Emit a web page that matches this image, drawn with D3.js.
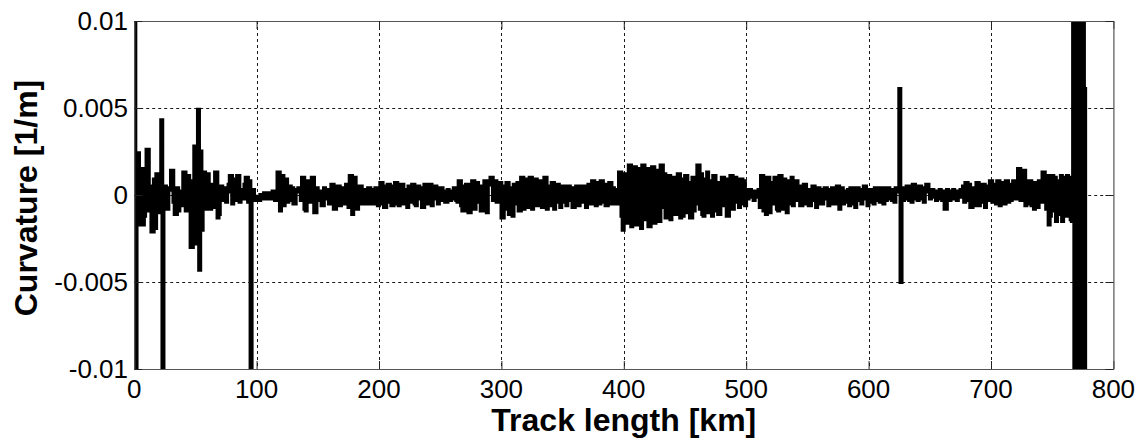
<!DOCTYPE html>
<html>
<head>
<meta charset="utf-8">
<script src="https://cdn.jsdelivr.net/npm/d3@7"></script>
<style>
  html, body { margin: 0; padding: 0; background: #fff; }
  svg { display: block; font-family: "Liberation Sans", Arial, sans-serif; }
</style>
</head>
<body>
<svg id="chart" width="1142" height="438"></svg>
<script>
// Track curvature sampled every kilometre, in units of 1e-4 1/m.
// Values beyond ±100 run off the axes and are clipped.
const sampleSpacingKm = 1;
const curvature1e4 = [
  150, -150, 24, 24, -17, 8, 15, -17, -12, 10,         // 0
  26, 26, -9, 5, -21, -21, 9, -19, 12, 12,             // 10
  -10, 6, 43, -150, 0, 5, -8, -8, 3, 4,                // 20
  14, 14, -4, -11, -11, 4, -9, 2, -6, -6,              // 30
  13, 13, -9, 11, 11, -5, -30, -30, 8, 28,             // 40
  28, -28, 49, -43, 25, -20, 13, 13, -8, 12,           // 50
  12, -5, -8, 6, 6, -7, 13, 13, -13, -11,              // 60
  5, 5, -3, 4, 4, -4, 2, 6, 11, 11,                    // 70
  -5, 9, 9, -3, 11, 11, -4, 3, 3, -2,                  // 80
  6, 10, 10, -4, 8, -150, 3, 3, -3, -2,                // 90
  -1, -3, -3, 0, -2, -2, 1, -2, -2, -1,                // 100
  1, 1, -2, 2, 2, -3, 2, 13, 13, -9,                   // 110
  11, 11, -6, 9, 9, -4, 5, 5, -3, 4,                   // 120
  -5, -5, 3, 2, 4, 4, -3, 10, 10, -8,                  // 130
  -9, 8, 8, -4, 5, 10, 10, -10, -10, 4,                // 140
  -3, -3, 2, -6, -6, 4, -2, 3, 3, -5,                  // 150
  -3, 6, 6, -8, -8, 3, 5, 5, -6, -3,                   // 160
  4, 4, -5, 6, 6, -7, 11, 11, -11, 9,                  // 170
  10, -8, -8, 4, 5, 5, -5, -4, 3, 3,                   // 180
  -5, 4, 4, -3, -5, -5, 3, 4, 4, -6,                   // 190
  2, 7, 7, -5, -7, -7, 5, 6, 6, -4,                    // 200
  -6, -6, 5, 7, 7, -5, -6, 4, 6, 6,                    // 210
  -5, -5, 3, -7, 5, 5, -4, 6, 6, -5,                   // 220
  -6, 5, 5, -2, 4, -7, -7, 6, 3, -5,                   // 230
  -5, 6, 6, -6, 2, 5, 5, -2, -5, 3,                    // 240
  4, 4, -3, 2, -4, -4, 3, 2, -3, 1,                    // 250
  -2, 4, 4, -3, -4, 8, 8, -6, -9, -9,                  // 260
  5, 6, 6, -10, -10, 4, 8, 8, -8, 7,                   // 270
  7, -4, 5, -9, -9, 3, 8, 8, -10, 6,                   // 280
  6, 10, 10, -3, 8, 8, -4, 6, 7, 7,                    // 290
  -13, -13, 5, -8, 7, 7, -11, -6, 4, -12,              // 300
  6, 6, -5, 7, -9, -9, 10, 10, -8, 9,                  // 310
  9, -7, 4, 10, 10, -8, 5, 9, 9, -6,                   // 320
  -5, 8, 8, -7, 6, 10, 10, -8, 4, -6,                  // 330
  5, 7, 7, -8, 4, 6, 6, -4, -7, 5,                     // 340
  5, -4, 2, -6, 5, 5, -3, 4, -7, -7,                   // 350
  3, 5, 5, -6, 2, -4, 5, 5, -3, -7,                    // 360
  3, 6, 6, -5, 8, 8, -4, -6, 7, 7,                     // 370
  -5, 8, 8, -4, 6, -6, -6, 3, 7, 7,                    // 380
  -5, 4, -4, 3, -5, 2, 13, 13, -12, -20,               // 390
  12, 12, -16, 8, 17, 17, -18, 14, 16, 16,             // 400
  -17, 15, 15, -12, -19, 17, 17, -14, 9, 15,           // 410
  -18, -18, 13, 16, 16, -16, -12, 14, 14, -15,         // 420
  17, 17, -7, 12, -13, -13, 11, 11, -14, 8,            // 430
  10, -11, -11, 5, 12, 12, -13, 6, -12, 9,             // 440
  11, 11, -10, 7, -13, -13, 10, -9, 3, -5,             // 450
  17, 17, -8, 12, -11, -12, 9, 9, 13, -10,             // 460
  8, -7, -12, 11, 11, -9, 7, -11, -11, 4,              // 470
  10, 10, -6, 9, -12, -12, 5, 11, 11, -8,              // 480
  10, 10, -4, 7, -7, 9, 9, -5, 8, -6,                  // 490
  2, -2, 3, 3, -1, 2, -3, 1, 2, -1,                    // 500
  3, -7, 11, 11, -9, 8, -11, 10, 10, -10,              // 510
  7, 7, -5, 10, 10, -8, -9, 11, 11, -8,                // 520
  9, 9, -7, -10, 8, 8, -5, 10, -6, 4,                  // 530
  8, 8, -3, 5, -6, -6, 3, 6, 6, -5,                    // 540
  3, -6, -6, 2, 5, 5, -3, -7, 4, 4,                    // 550
  3, -5, -5, 1, 4, 4, -2, -6, 2, 3,                    // 560
  4, -5, -5, 2, 5, 5, -8, 3, 4, -5,                    // 570
  2, 2, -4, 3, -6, 4, 4, -5, 2, -7,                    // 580
  4, 4, -3, 2, -5, 3, 5, 5, -2, -6,                    // 590
  3, 3, -4, 2, -5, 4, 4, -3, 2, -4,                    // 600
  4, 4, -5, 2, -3, 4, 4, -2, 3, -3,                    // 610
  3, -4, 4, 4, 2, 61, -50, 3, -3, 4,                   // 620
  -2, 5, 5, -3, 2, -4, 6, 6, -2, 3,                    // 630
  -3, 5, 5, -2, 4, -4, 2, 6, 6, 3,                     // 640
  -2, 3, 3, -1, 2, -3, 2, -2, 3, 2,                    // 650
  -3, 2, -8, -8, 3, 1, -3, 2, 2, 3,                    // 660
  -2, 2, -3, 1, 1, 3, -1, 5, -4, 7,                    // 670
  7, -3, 6, -7, -7, 4, -5, -6, 7, 7,                   // 680
  -6, 3, -4, 6, 6, -7, 5, -3, 4, 8,                    // 690
  8, -4, 6, 6, -5, 8, 8, -6, 4, 7,                     // 700
  7, -5, 8, 8, -4, 6, -3, 5, 8, 8,                     // 710
  -2, 4, 15, 15, -3, 9, 14, 14, -6, 7,                 // 720
  -5, 8, 8, -6, 4, -8, 7, 7, -7, 8,                    // 730
  8, -4, 13, 13, 9, -8, 11, -17, -12, 11,              // 740
  11, -9, 10, -15, 8, 8, -11, 11, -15, 10,             // 750
  10, -12, 11, -8, 10, -14, -15, 150, -150, 150,       // 760
  -150, 150, -150, 150, -150, 150, -150, 62            // 770
];

const xTicks = [0, 100, 200, 300, 400, 500, 600, 700, 800];
const yTicks = [-0.01, -0.005, 0, 0.005, 0.01];
const yTickLabels = ["-0.01", "-0.005", "0", "0.005", "0.01"];
const xTitle = "Track length [km]";
const yTitle = "Curvature [1/m]";

const points = curvature1e4.map((c, i) => ({ km: i * sampleSpacingKm, k: c * 1e-4 }));

const svg = d3.select("#chart");
const plot = { left: 134.2, right: 1113.4, top: 21, bottom: 369 };

const x = d3.scaleLinear().domain([0, 800]).range([plot.left, plot.right]);
const y = d3.scaleLinear().domain([-0.01, 0.01]).range([plot.bottom, plot.top]);

svg.append("defs").append("clipPath").attr("id", "plot-clip")
  .append("rect")
  .attr("x", plot.left).attr("y", plot.top)
  .attr("width", plot.right - plot.left).attr("height", plot.bottom - plot.top);

// Dotted grid
const grid = svg.append("g").attr("stroke", "#1a1a1a").attr("stroke-width", 1)
  .attr("stroke-dasharray", "3,3").attr("fill", "none");
grid.selectAll("line.gx").data(xTicks.slice(1, -1)).join("line")
  .attr("x1", d => Math.round(x(d)) + 0.5).attr("x2", d => Math.round(x(d)) + 0.5)
  .attr("y1", plot.top).attr("y2", plot.bottom);
grid.selectAll("line.gy").data(yTicks.slice(1, -1)).join("line")
  .attr("y1", d => Math.round(y(d)) + 0.5).attr("y2", d => Math.round(y(d)) + 0.5)
  .attr("x1", plot.left).attr("x2", plot.right);

// Curvature trace
const line = d3.line()
  .x(d => x(d.km))
  .y(d => y(d.k))
  .curve(d3.curveStepAfter);

svg.append("path")
  .datum(points)
  .attr("clip-path", "url(#plot-clip)")
  .attr("fill", "none")
  .attr("stroke", "#000")
  .attr("stroke-width", 3.8)
  .attr("stroke-linejoin", "miter")
  .attr("d", line);

// Axes box with inward ticks on all four sides
const tickLen = 8;
const axisColor = "#555";
const bottomAxis = d3.axisBottom(x).tickValues(xTicks).tickSizeInner(-tickLen).tickSizeOuter(0).tickFormat("");
const topAxis = d3.axisTop(x).tickValues(xTicks).tickSizeInner(-tickLen).tickSizeOuter(0).tickFormat("");
const leftAxis = d3.axisLeft(y).tickValues(yTicks).tickSizeInner(-tickLen).tickSizeOuter(0).tickFormat("");
const rightAxis = d3.axisRight(y).tickValues(yTicks).tickSizeInner(-tickLen).tickSizeOuter(0).tickFormat("");

function styleAxis(g) {
  g.select(".domain").attr("stroke", axisColor).attr("stroke-width", 1.2);
  g.selectAll(".tick line").attr("stroke", "#222").attr("stroke-width", 1);
}
svg.append("g").attr("transform", `translate(0,${plot.bottom})`).call(bottomAxis).call(styleAxis);
svg.append("g").attr("transform", `translate(0,${plot.top})`).call(topAxis).call(styleAxis);
svg.append("g").attr("transform", `translate(${plot.left},0)`).call(leftAxis).call(styleAxis);
svg.append("g").attr("transform", `translate(${plot.right},0)`).call(rightAxis).call(styleAxis);

// Tick labels
svg.append("g").selectAll("text").data(xTicks).join("text")
  .attr("x", d => x(d)).attr("y", 398)
  .attr("text-anchor", "middle")
  .attr("font-size", 26).attr("fill", "#000")
  .text(d => d);

svg.append("g").selectAll("text").data(yTicks).join("text")
  .attr("x", 128).attr("y", d => y(d)).attr("dy", "0.35em")
  .attr("text-anchor", "end")
  .attr("font-size", 26).attr("fill", "#000")
  .text((d, i) => yTickLabels[i]);

// Axis titles
svg.append("text")
  .attr("x", (plot.left + plot.right) / 2).attr("y", 431)
  .attr("text-anchor", "middle")
  .attr("font-size", 32).attr("font-weight", "bold").attr("fill", "#000")
  .text(xTitle);

svg.append("text")
  .attr("transform", `translate(37,${(plot.top + plot.bottom) / 2 + 3}) rotate(-90)`)
  .attr("text-anchor", "middle")
  .attr("font-size", 32).attr("font-weight", "bold").attr("fill", "#000")
  .text(yTitle);
</script>
</body>
</html>
